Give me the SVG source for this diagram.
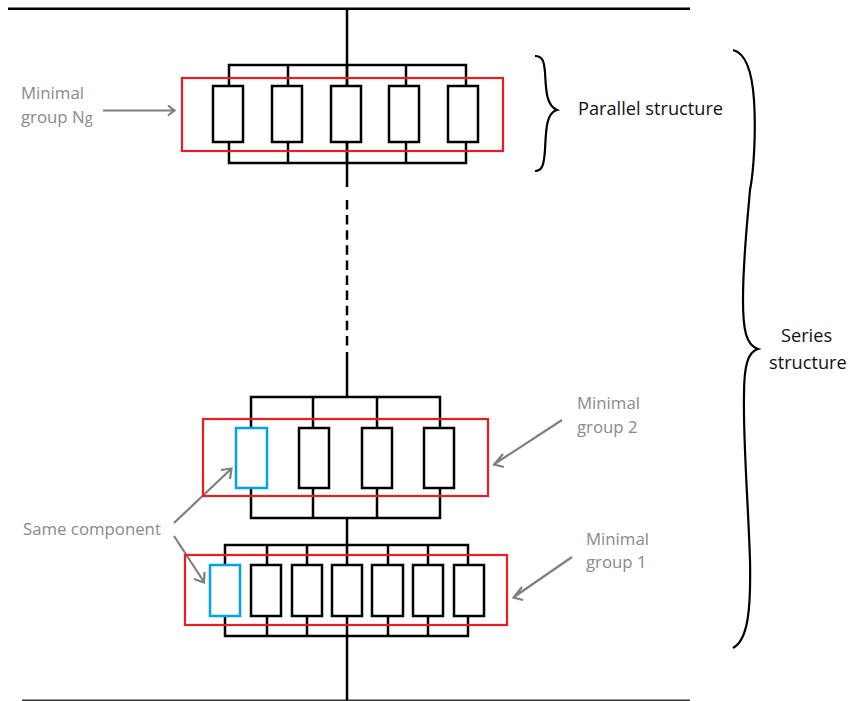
<svg xmlns="http://www.w3.org/2000/svg" width="850" height="701" viewBox="0 0 850 701">
<style>
text{font-family:"Open Sans","Noto Sans","Liberation Sans",sans-serif}
.g{fill:#8a8a8a;font-size:16.800px}.k{fill:#111;font-size:18.200px}
.w{fill:none;stroke:#000;stroke-width:2.5}
.r{fill:none;stroke:#ed1c24;stroke-width:2.200}
.c{fill:#fff;stroke:#000;stroke-width:2.500}
.b{fill:#fff;stroke:#00a2e8;stroke-width:2.500}
.a{fill:none;stroke:#7f7f7f;stroke-width:2.200}
.s{fill:none;stroke:#000;stroke-width:2.200}
</style>
<g id="connectors">
<path class="w" d="M8 8.700H690"/>
<path d="M22 700.300H690" fill="none" stroke="#333" stroke-width="1.500"/>
<path class="w" d="M347 9V187M347 352V397M347 518V545M347 636V700"/>
<path class="w" d="M347 200V347" stroke-dasharray="9.500 5.600"/>
<path class="w" d="M229 86V65H466V86M288 65V86M347 65V86M406 65V86M229 142V163H466V142M288 142V163M347 142V163M406 142V163"/>
<path class="w" d="M251 428V397H440V428M313 397V428M377 397V428M251 488V518H440V488M313 488V518M377 488V518"/>
<path class="w" d="M225 565V545H468V565M267 545V565M307 545V565M347 545V565M388 545V565M428 545V565M225 616V636H468V616M267 616V636M307 616V636M347 616V636M388 616V636M428 616V636"/>
<path class="a" d="M103 110.500H174M168 105.500L174.500 110.500L168 115.500"/>
<path class="a" d="M174 523L231 469M221 470L231.500 468.500L230 479"/>
<path class="a" d="M174 536L204 582M194 579L204 582.500L204.500 572"/>
<path class="a" d="M562 420L494.500 464M503 454L494 464.500L504 467"/>
<path class="a" d="M572 557L514 597M522 587L513.500 597.500L523 600"/>
</g>
<g id="group-ng">
<rect class="r" x="182" y="78" width="321" height="73"/>
<rect class="c" x="213" y="86" width="30" height="56"/><rect class="c" x="272" y="86" width="30" height="56"/><rect class="c" x="331" y="86" width="30" height="56"/><rect class="c" x="389" y="86" width="30" height="56"/><rect class="c" x="448" y="86" width="30" height="56"/>
</g>
<g id="group-2">
<rect class="r" x="203" y="419" width="285" height="77"/>
<rect class="b" x="236" y="428" width="31" height="60"/><rect class="c" x="299" y="428" width="30" height="60"/><rect class="c" x="362" y="428" width="30" height="60"/><rect class="c" x="424" y="428" width="30" height="60"/>
</g>
<g id="group-1">
<rect class="r" x="185" y="555" width="322" height="70"/>
<rect class="b" x="210" y="565" width="30" height="51"/><rect class="c" x="251" y="565" width="30" height="51"/><rect class="c" x="292" y="565" width="30" height="51"/><rect class="c" x="332" y="565" width="30" height="51"/><rect class="c" x="372" y="565" width="31" height="51"/><rect class="c" x="413" y="565" width="30" height="51"/><rect class="c" x="454" y="565" width="30" height="51"/>
</g>
<g id="braces">
<path class="s" d="M535 56C543 56 544 62 545 72C546 90 546 105 557 110C546 113 546 130 545 150C544 163 543 171 535 171"/>
<path class="s" d="M733 50C745 53 752 70 754 100C756 130 754 170 750 190C747 225 743 260 743 300C743 330 746 345 758 349C748 352 744 365 744 395C743 440 748 500 750 560C751 610 748 640 733 648"/>
</g>
<g id="labels">
<text class="g" x="21" y="99">Minimal</text>
<text class="g" x="21" y="123">group N<tspan font-size="14.500">g</tspan></text>
<text class="k" x="578" y="115">Parallel structure</text>
<text class="k" x="781" y="342">Series</text>
<text class="k" x="769" y="369">structure</text>
<text class="g" x="577" y="409">Minimal</text>
<text class="g" x="577" y="433">group 2</text>
<text class="g" x="23" y="535">Same component</text>
<text class="g" x="586" y="545">Minimal</text>
<text class="g" x="586" y="568">group 1</text>
</g>
</svg>
